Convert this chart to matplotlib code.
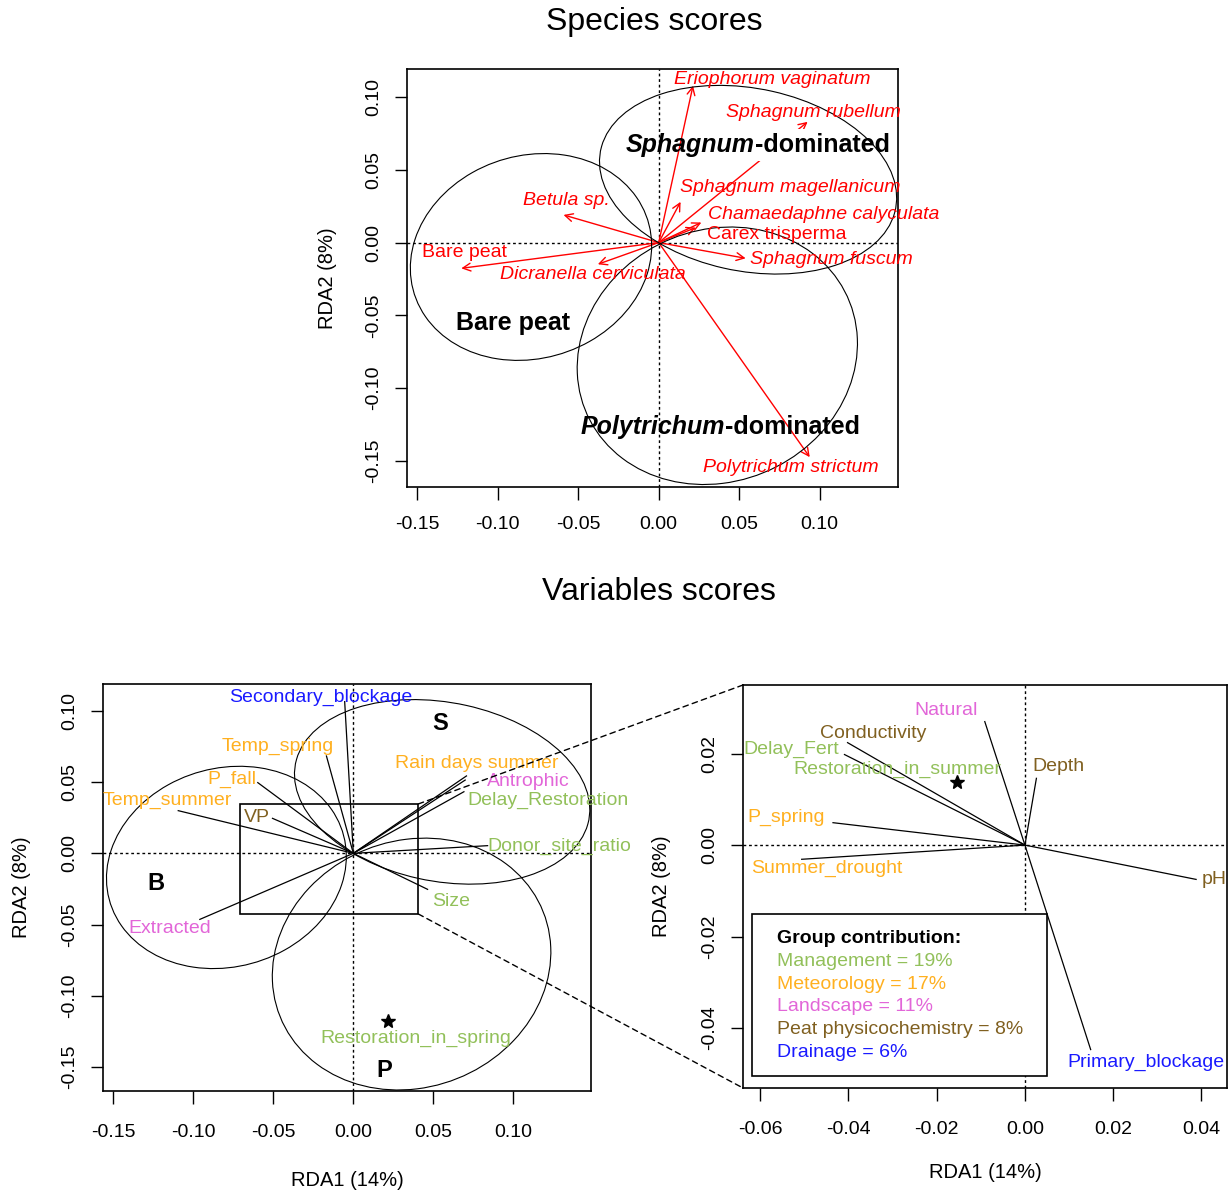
import matplotlib.pyplot as plt
import matplotlib.ticker as mticker
from matplotlib.patches import Ellipse, Rectangle, ConnectionPatch

plt.rcParams['font.family'] = ['Liberation Sans', 'DejaVu Sans']

# ---- species scores (RDA1, RDA2) ----
species = ["Eriophorum vaginatum", "Sphagnum rubellum", "Sphagnum magellanicum",
           "Chamaedaphne calyculata", "Carex trisperma", "Sphagnum fuscum",
           "Polytrichum strictum", "Betula sp.", "Bare peat", "Dicranella cerviculata"]
sp_x = [0.0213, 0.0925, 0.0136, 0.0265, 0.0230, 0.0540, 0.0938, -0.0591, -0.1226, -0.0378]
sp_y = [0.1078, 0.0830, 0.0280, 0.0138, 0.0103, -0.0108, -0.1475, 0.0190, -0.0177, -0.0149]
sp_lab_x = [0.0707, 0.0958, 0.0814, 0.1026, 0.0730, 0.1075, 0.0820, -0.0572, -0.1208, -0.0407]
sp_lab_y = [0.1124, 0.0894, 0.0378, 0.0195, 0.0057, -0.0115, -0.1544, 0.0287, -0.0069, -0.0218]
sp_italic = [True, True, True, True, False, True, True, True, False, True]

# ---- site group ellipses (centre, semi-axes, rotation) ----
groups = ["Bare peat", "Sphagnum", "Polytrichum"]
ell_cx = [-0.0793, 0.0555, 0.0364]
ell_cy = [-0.0099, 0.0432, -0.0778]
ell_a = [0.0773, 0.0938, 0.0919]
ell_b = [0.0685, 0.0626, 0.0834]
ell_ang = [32, -14, 50]

# ---- environmental variables, left panel ----
var_l = ["Secondary_blockage", "Temp_spring", "P_fall", "Temp_summer", "VP", "Extracted",
         "Size", "Donor_site_ratio", "Delay_Restoration", "Antrophic", "Rain days summer"]
var_l_x = [-0.0054, -0.0168, -0.0597, -0.1094, -0.0505, -0.0959, 0.0464, 0.0839, 0.0691, 0.0699, 0.0707]
var_l_y = [0.1066, 0.0684, 0.0497, 0.0300, 0.0246, -0.0464, -0.0253, 0.0054, 0.0433, 0.0515, 0.0544]
var_l_lx = [-0.0202, -0.0474, -0.0760, -0.1160, -0.0602, -0.1150, 0.0610, 0.1286, 0.1214, 0.1094, 0.0773]
var_l_ly = [0.1097, 0.0754, 0.0520, 0.0370, 0.0251, -0.0527, -0.0340, 0.0047, 0.0370, 0.0504, 0.0633]
var_l_grp = ["Drainage", "Meteorology", "Meteorology", "Meteorology", "Peat physicochemistry",
             "Landscape", "Management", "Management", "Management", "Landscape", "Meteorology"]

# ---- environmental variables, zoomed panel ----
var_r = ["Natural", "Depth", "Conductivity", "Delay_Fert", "P_spring", "Summer_drought",
         "pH", "Primary_blockage"]
var_r_x = [-0.0091, 0.0026, -0.0402, -0.0409, -0.0435, -0.0506, 0.0388, 0.0149]
var_r_y = [0.0270, 0.0146, 0.0224, 0.0198, 0.0049, -0.0031, -0.0075, -0.0447]
var_r_lx = [-0.0178, 0.0077, -0.0343, -0.0529, -0.0541, -0.0448, 0.0428, 0.0275]
var_r_ly = [0.0295, 0.0171, 0.0244, 0.0210, 0.0060, -0.0051, -0.0075, -0.0474]
var_r_grp = ["Landscape", "Peat physicochemistry", "Peat physicochemistry", "Management",
             "Meteorology", "Meteorology", "Peat physicochemistry", "Drainage"]

# factor centroids (restoration season)
fac = ["Restoration_in_spring", "Restoration_in_summer"]
fac_x = [0.0214, -0.0153]
fac_y = [-0.1178, 0.0137]
fac_lx = [0.0393, -0.0289]
fac_ly = [-0.1300, 0.01655]

# group letters in variable plot
letters = ["S", "B", "P"]
let_x = [0.054, -0.1232, 0.0196]
let_y = [0.0914, -0.0211, -0.1523]

# zoom window
zoom_x = [-0.0709, 0.0406]
zoom_y = [-0.0426, 0.0347]

# group contributions
contrib_grp = ["Management", "Meteorology", "Landscape", "Peat physicochemistry", "Drainage"]
contrib_pct = [19, 17, 11, 8, 6]

colors = {"Management": "#92C05A", "Meteorology": "#FFB020", "Landscape": "#E266D8",
          "Peat physicochemistry": "#806020", "Drainage": "#1a1aff"}

W, H = 1229, 1192
fig = plt.figure(figsize=(W / 100, H / 100), dpi=100)


def px_axes(l, t, r, b):
    return fig.add_axes([l / W, 1 - b / H, (r - l) / W, (b - t) / H])


def style_axes(ax, xt, yt, xl, yl, xpad):
    ax.set_xlim(*xl)
    ax.set_ylim(*yl)
    ax.set_xticks(xt)
    ax.set_yticks(yt)
    ax.xaxis.set_major_formatter(mticker.FormatStrFormatter('%.2f'))
    ax.yaxis.set_major_formatter(mticker.FormatStrFormatter('%.2f'))
    ax.tick_params(direction='out', length=9, width=1, labelsize=14)
    ax.tick_params(axis='x', pad=xpad)
    ax.tick_params(axis='y', pad=9, labelrotation=90)
    for lab in ax.get_yticklabels():
        lab.set_va('center')
    for s in ax.spines.values():
        s.set_linewidth(1.2)
    ax.axhline(0, color='black', ls=(0, (2, 2)), lw=1, zorder=1)
    ax.axvline(0, color='black', ls=(0, (2, 2)), lw=1, zorder=1)


def draw_ellipses(ax, z):
    for cx, cy, a, b, ang in zip(ell_cx, ell_cy, ell_a, ell_b, ell_ang):
        ax.add_patch(Ellipse((cx, cy), 2 * a, 2 * b, angle=ang, fill=False,
                             ec='black', lw=0.8, zorder=z))


# ================= Species scores =================
ax1 = px_axes(407, 69, 898, 487)
style_axes(ax1, [-0.15, -0.10, -0.05, 0.0, 0.05, 0.10], [-0.15, -0.10, -0.05, 0.0, 0.05, 0.10],
           (-0.1563, 0.1486), (-0.168, 0.1193), 12)
ax1.set_ylabel("RDA2 (8%)", fontsize=14.5)
ax1.yaxis.set_label_coords(-0.143, 0.5)
draw_ellipses(ax1, 5)
for x, y in zip(sp_x, sp_y):
    ax1.annotate("", xy=(x, y), xytext=(0, 0),
                 arrowprops=dict(arrowstyle='->', color='red', lw=1, shrinkA=0, shrinkB=0,
                                 mutation_scale=14), zorder=3)
for name, lx, ly, it in zip(species, sp_lab_x, sp_lab_y, sp_italic):
    ax1.text(lx, ly, name, color='red', fontsize=14, style='italic' if it else 'normal',
             ha='center', va='center', zorder=6)

# group names (the white box behind "-dominated" hides part of one arrow, as in the source)
ax1.text(0.0599, 0.0672, "-dominated", fontsize=18, fontweight='bold', ha='left', va='center',
         zorder=4, bbox=dict(fc='white', ec='none', pad=3))
ax1.text(0.0599, 0.0672, "Sphagnum", fontsize=18, fontweight='bold', style='italic',
         ha='right', va='center', zorder=5)
ax1.text(-0.0905, -0.055, "Bare peat", fontsize=18, fontweight='bold', ha='center', va='center')
ax1.text(0.0411, -0.1268, "Polytrichum", fontsize=18, fontweight='bold', style='italic',
         ha='right', va='center')
ax1.text(0.0411, -0.1268, "-dominated", fontsize=18, fontweight='bold', ha='left', va='center')

fig.text(654 / W, 1 - 22 / H, "Species scores", fontsize=23, ha='center', va='center')
fig.text(659 / W, 1 - 592 / H, "Variables scores", fontsize=23, ha='center', va='center')

# ================= Variables scores (full) =================
ax2 = px_axes(103, 684, 591, 1091)
style_axes(ax2, [-0.15, -0.10, -0.05, 0.0, 0.05, 0.10], [-0.15, -0.10, -0.05, 0.0, 0.05, 0.10],
           (-0.1564, 0.1485), (-0.167, 0.119), 15)
ax2.set_ylabel("RDA2 (8%)", fontsize=14.5)
ax2.set_xlabel("RDA1 (14%)", fontsize=14.5)
ax2.yaxis.set_label_coords(-0.148, 0.5)
ax2.xaxis.set_label_coords(0.5, -0.197)
draw_ellipses(ax2, 2)
for x, y in zip(var_l_x, var_l_y):
    ax2.plot([0, x], [0, y], color='black', lw=0.9, zorder=3)
for name, lx, ly, g in zip(var_l, var_l_lx, var_l_ly, var_l_grp):
    ax2.text(lx, ly, name, color=colors[g], fontsize=14, ha='center', va='center', zorder=4)
ax2.plot(fac_x[0], fac_y[0], marker='*', color='black', ms=10, ls='none')
ax2.text(fac_lx[0], fac_ly[0], fac[0], color=colors["Management"], fontsize=14,
         ha='center', va='center')
for t, x, y in zip(letters, let_x, let_y):
    ax2.text(x, y, t, fontsize=17, fontweight='bold', ha='center', va='center')
ax2.add_patch(Rectangle((zoom_x[0], zoom_y[0]), zoom_x[1] - zoom_x[0], zoom_y[1] - zoom_y[0],
                        fill=False, ec='black', lw=1.2, zorder=3))

# ================= Variables scores (zoom) =================
ax3 = px_axes(743, 685, 1227, 1088)
style_axes(ax3, [-0.06, -0.04, -0.02, 0.0, 0.02, 0.04], [-0.04, -0.02, 0.0, 0.02],
           (-0.0639, 0.0458), (-0.0531, 0.035), 15)
ax3.set_ylabel("RDA2 (8%)", fontsize=14.5)
ax3.set_xlabel("RDA1 (14%)", fontsize=14.5)
ax3.yaxis.set_label_coords(-0.149, 0.5)
ax3.xaxis.set_label_coords(0.5, -0.186)
for x, y in zip(var_r_x, var_r_y):
    ax3.plot([0, x], [0, y], color='black', lw=0.9, zorder=3)
for name, lx, ly, g in zip(var_r, var_r_lx, var_r_ly, var_r_grp):
    ax3.text(lx, ly, name, color=colors[g], fontsize=14, ha='center', va='center', zorder=4)
ax3.plot(fac_x[1], fac_y[1], marker='*', color='black', ms=10, ls='none')
ax3.text(fac_lx[1], fac_ly[1], fac[1], color=colors["Management"], fontsize=14,
         ha='center', va='center')

# legend box
ax3.add_patch(Rectangle((0.019, 0.0295), 0.61, 0.4015, transform=ax3.transAxes,
                        fc='white', ec='black', lw=1.2, zorder=5))
ax3.text(0.070, 0.372, "Group contribution:", transform=ax3.transAxes, fontsize=14,
         fontweight='bold', ha='left', va='center', zorder=6)
for i, (g, p) in enumerate(zip(contrib_grp, contrib_pct)):
    ax3.text(0.070, 0.315 - i * 0.057, f"{g} = {p}%", transform=ax3.transAxes, fontsize=14,
             color=colors[g], ha='left', va='center', zorder=6)

# connectors from zoom window to the zoomed panel
for yy, fy in [(zoom_y[1], 1), (zoom_y[0], 0)]:
    con = ConnectionPatch(xyA=(zoom_x[1], yy), coordsA=ax2.transData,
                          xyB=(0, fy), coordsB=ax3.transAxes,
                          ls=(0, (4, 3)), lw=1, color='black')
    fig.add_artist(con)

fig.savefig("out.png", dpi=100)
